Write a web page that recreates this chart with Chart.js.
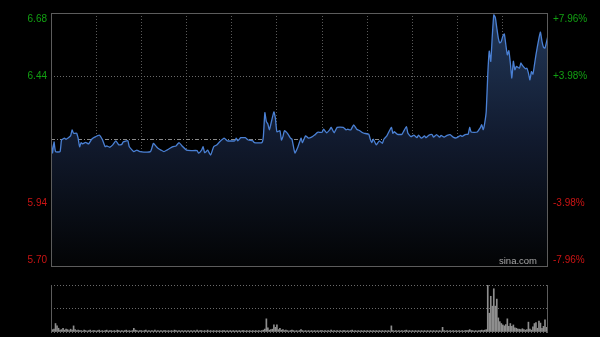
<!DOCTYPE html>
<html>
<head>
<meta charset="utf-8">
<script src="https://cdn.jsdelivr.net/npm/chart.js@4/dist/chart.umd.min.js"></script>
<style>
  html, body { margin: 0; padding: 0; background: #000; }
  #wrap { position: relative; width: 600px; height: 337px; overflow: hidden; }
  canvas { position: absolute; left: 0; }
  #priceChart { top: 0; }
  #volChart { top: 275px; }
</style>
</head>
<body>
<div id="wrap">
  <canvas id="priceChart" width="600" height="275"></canvas>
  <canvas id="volChart" width="600" height="62"></canvas>
</div>
<script>
// minutes since open (0..330) and last price at that minute
const priceMinutes = [
  0, 1, 2, 3, 6, 7, 9, 10, 13, 14, 15, 17, 18, 19, 20, 21, 23, 25, 27, 29,
  32, 34, 36, 37, 39, 41, 43, 45, 47, 48, 51, 52, 55, 57, 59, 66, 68, 70, 71, 73,
  75, 77, 79, 81, 83, 85, 87, 90, 93, 97, 98, 100, 101, 102, 103, 104, 106, 108, 110, 112,
  115, 117, 122, 123, 124, 126, 129, 131, 134, 135, 140, 141, 142, 143, 144, 145, 146, 148, 149, 150,
  152, 153, 154, 155, 157, 159, 160, 161, 162, 164, 166, 167, 169, 171, 173, 175, 177, 180, 181, 183,
  185, 186, 188, 190, 194, 196, 197, 199, 201, 203, 205, 207, 208, 211, 212, 213, 214, 216, 218, 220,
  221, 223, 226, 227, 228, 230, 233, 234, 236, 237, 239, 241, 243, 244, 246, 248, 249, 251, 253, 254,
  256, 258, 259, 261, 263, 265, 267, 269, 272, 273, 275, 277, 278, 279, 283, 285, 286, 287, 288, 289,
  290, 291, 292, 293, 294, 295, 296, 297, 298, 299, 300, 301, 302, 303, 304, 305, 306, 307, 308, 309,
  311, 312, 313, 315, 316, 317, 318, 319, 320, 321, 322, 324, 325, 326, 327, 328, 330
];
const prices = [
  6.188, 6.138, 6.181, 6.143, 6.143, 6.188, 6.195, 6.191, 6.204, 6.227, 6.214, 6.214, 6.195, 6.162, 6.178, 6.173, 6.179, 6.173, 6.191, 6.199,
  6.207, 6.191, 6.162, 6.165, 6.160, 6.169, 6.185, 6.169, 6.171, 6.181, 6.185, 6.162, 6.143, 6.149, 6.143, 6.143, 6.175, 6.162, 6.156, 6.149,
  6.143, 6.149, 6.156, 6.162, 6.165, 6.178, 6.165, 6.149, 6.147, 6.147, 6.137, 6.149, 6.162, 6.139, 6.143, 6.149, 6.130, 6.162, 6.169, 6.181,
  6.195, 6.185, 6.185, 6.195, 6.185, 6.197, 6.197, 6.188, 6.185, 6.178, 6.178, 6.201, 6.294, 6.259, 6.250, 6.227, 6.250, 6.297, 6.272, 6.220,
  6.224, 6.188, 6.201, 6.224, 6.214, 6.195, 6.191, 6.162, 6.137, 6.162, 6.195, 6.178, 6.204, 6.195, 6.199, 6.207, 6.218, 6.218, 6.230, 6.216,
  6.227, 6.237, 6.216, 6.237, 6.237, 6.227, 6.230, 6.227, 6.247, 6.230, 6.224, 6.216, 6.214, 6.210, 6.191, 6.178, 6.191, 6.169, 6.185, 6.175,
  6.191, 6.204, 6.237, 6.214, 6.220, 6.210, 6.210, 6.220, 6.240, 6.214, 6.201, 6.207, 6.197, 6.207, 6.195, 6.204, 6.197, 6.207, 6.209, 6.199,
  6.209, 6.199, 6.206, 6.199, 6.206, 6.209, 6.199, 6.196, 6.206, 6.202, 6.209, 6.211, 6.237, 6.219, 6.219, 6.235, 6.247, 6.228, 6.254, 6.300,
  6.441, 6.532, 6.493, 6.590, 6.673, 6.663, 6.622, 6.583, 6.564, 6.570, 6.590, 6.599, 6.557, 6.518, 6.534, 6.486, 6.428, 6.493, 6.460, 6.473,
  6.466, 6.486, 6.477, 6.464, 6.466, 6.447, 6.421, 6.453, 6.443, 6.479, 6.518, 6.583, 6.606, 6.570, 6.547, 6.544, 6.593
];
// volume per minute (relative units, 100 = day's biggest minute)
const volumes = [
  8, 5, 6, 18, 13, 8, 4, 5, 8, 4,
  6, 5, 3, 6, 4, 13, 5, 3, 4, 3,
  3, 2, 4, 3, 2, 3, 4, 2, 3, 3,
  2, 3, 4, 2, 3, 2, 3, 4, 2, 3,
  3, 2, 3, 2, 4, 3, 2, 3, 2, 3,
  4, 2, 3, 2, 3, 8, 4, 3, 2, 3,
  3, 2, 3, 4, 2, 3, 2, 3, 2, 4,
  2, 3, 2, 3, 2, 3, 3, 2, 3, 2,
  3, 2, 4, 3, 2, 3, 2, 3, 2, 3,
  2, 3, 2, 3, 2, 3, 2, 4, 2, 3,
  3, 2, 3, 2, 4, 2, 3, 2, 3, 2,
  3, 2, 3, 2, 3, 3, 2, 3, 2, 3,
  2, 3, 2, 3, 2, 3, 2, 3, 3, 2,
  3, 2, 3, 2, 3, 2, 3, 2, 3, 2,
  3, 4, 6, 28, 9, 4, 5, 6, 15, 10,
  15, 5, 8, 4, 5, 3, 4, 3, 2, 3,
  4, 3, 2, 3, 2, 3, 5, 3, 2, 3,
  2, 3, 2, 3, 2, 3, 2, 3, 2, 3,
  3, 2, 3, 2, 3, 2, 4, 2, 3, 2,
  3, 2, 3, 2, 3, 3, 2, 3, 2, 3,
  4, 2, 3, 2, 3, 2, 3, 2, 3, 2,
  3, 2, 3, 2, 3, 2, 3, 2, 3, 2,
  3, 2, 3, 2, 3, 2, 13, 3, 2, 3,
  2, 3, 2, 3, 2, 3, 4, 2, 3, 2,
  3, 2, 3, 2, 3, 2, 3, 2, 3, 2,
  3, 2, 3, 2, 3, 2, 3, 2, 3, 2,
  10, 3, 2, 3, 2, 3, 2, 3, 2, 3,
  2, 3, 2, 3, 2, 3, 3, 3, 5, 3,
  3, 2, 3, 2, 3, 3, 4, 3, 4, 5,
  100, 40, 76, 55, 92, 55, 70, 30, 22, 18,
  15, 13, 16, 28, 12, 18, 12, 15, 9, 8,
  6, 6, 5, 7, 5, 4, 5, 21, 6, 4,
  11, 18, 20, 8, 23, 19, 8, 12, 26, 10,
  28
];

const prevClose = 6.19;
const yTickValues = [6.68, 6.435, 6.19, 5.945, 5.70];
const leftLabels = ["6.68", "6.44", "", "5.94", "5.70"];
const rightLabels = ["+7.96%", "+3.98%", "", "-3.98%", "-7.96%"];
const xGridMinutes = [30, 60, 90, 120, 150, 180, 210, 240, 270, 300];
const volGridValues = [0, 50, 100];

const FONT = '10px "Liberation Sans", Arial, sans-serif';
const UP = "#12a012";
const DOWN = "#cc1414";

function areaFill(ctx) {
  const a = ctx.chart.chartArea;
  if (!a) return "rgba(0,0,0,0)";
  const g = ctx.chart.ctx.createLinearGradient(0, a.top, 0, a.bottom);
  g.addColorStop(0, "#223859");
  g.addColorStop(0.5, "#111a2e");
  g.addColorStop(0.75, "#0a0f19");
  g.addColorStop(1, "#030405");
  return g;
}

const framePlugin = {
  id: "frame",
  afterDraw(chart) {
    const { ctx, chartArea: a } = chart;
    ctx.save();
    ctx.strokeStyle = "#5c5c5c";
    ctx.lineWidth = 1;
    ctx.strokeRect(a.left + 0.5, a.top + 0.5, a.right - a.left - 1, a.bottom - a.top);
    ctx.restore();
  },
};

const labelPlugin = {
  id: "sideLabels",
  afterDraw(chart) {
    const { ctx, chartArea: a } = chart;
    const y = chart.scales.y;
    ctx.save();
    ctx.font = FONT;
    ctx.textBaseline = "middle";
    yTickValues.forEach((v, i) => {
      if (!leftLabels[i]) return;
      let py = y.getPixelForValue(v);
      py = Math.min(Math.max(py, a.top + 6), a.bottom - 6);
      ctx.fillStyle = v > prevClose ? UP : DOWN;
      ctx.textAlign = "right";
      ctx.fillText(leftLabels[i], a.left - 4, py);
      ctx.textAlign = "left";
      ctx.fillText(rightLabels[i], a.right + 5, py);
    });
    ctx.fillStyle = "#a8a8a8";
    ctx.font = '9.5px "Liberation Sans", Arial, sans-serif';
    ctx.textAlign = "right";
    ctx.fillText("sina.com", a.right - 11, a.bottom - 5);
    ctx.restore();
  },
};

const sidePlugin = {
  id: "volSides",
  afterDraw(chart) {
    const { ctx, chartArea: a } = chart;
    ctx.save();
    ctx.strokeStyle = "#5c5c5c";
    ctx.lineWidth = 1;
    ctx.beginPath();
    ctx.moveTo(a.left + 0.5, a.top);
    ctx.lineTo(a.left + 0.5, a.bottom + 1);
    ctx.moveTo(a.right - 0.5, a.top);
    ctx.lineTo(a.right - 0.5, a.bottom + 1);
    ctx.stroke();
    ctx.restore();
  },
};

const isBase = c => c.tick && c.tick.value === prevClose;

new Chart(document.getElementById("priceChart"), {
  type: "line",
  data: {
    datasets: [{
      data: priceMinutes.map((m, i) => ({ x: m, y: prices[i] })),
      borderColor: "#4a80d4",
      borderWidth: 1.3,
      pointRadius: 0,
      tension: 0.15,
      fill: "start",
      backgroundColor: areaFill,
    }],
  },
  options: {
    responsive: false,
    animation: false,
    events: [],
    layout: { padding: { left: 51, right: 52, top: 13, bottom: 9 } },
    plugins: { legend: { display: false }, tooltip: { enabled: false } },
    scales: {
      x: {
        type: "linear", min: 0, max: 330, z: 1,
        afterBuildTicks: s => { s.ticks = xGridMinutes.map(v => ({ value: v })); },
        afterFit: s => { s.height = 0; },
        ticks: { display: false },
        grid: { color: "#5a5a5a", drawTicks: false },
        border: { display: false, dash: [1, 2] },
      },
      y: {
        min: 5.70, max: 6.68, z: 1,
        afterBuildTicks: s => { s.ticks = yTickValues.slice(1, 4).map(v => ({ value: v })); },
        afterFit: s => { s.width = 0; },
        ticks: { display: false },
        grid: { drawTicks: false, color: c => (isBase(c) ? "#8a8a8a" : "#6a6a6a") },
        border: { display: false, dash: c => (isBase(c) ? [4, 2, 1, 2] : [1, 2]) },
      },
    },
  },
  plugins: [framePlugin, labelPlugin],
});

new Chart(document.getElementById("volChart"), {
  type: "bar",
  data: {
    datasets: [{
      data: volumes.map((v, i) => ({ x: i, y: v })),
      backgroundColor: "#8e8e8e",
      barThickness: 1,
      borderWidth: 0,
    }],
  },
  options: {
    responsive: false,
    animation: false,
    events: [],
    layout: { padding: { left: 51, right: 52, top: 10, bottom: 5 } },
    plugins: { legend: { display: false }, tooltip: { enabled: false } },
    scales: {
      x: {
        type: "linear", min: 0, max: 330, offset: false,
        afterFit: s => { s.height = 0; },
        ticks: { display: false },
        grid: { display: false, offset: false },
        border: { display: false },
      },
      y: {
        min: 0, max: 100,
        afterBuildTicks: s => { s.ticks = volGridValues.map(v => ({ value: v })); },
        afterFit: s => { s.width = 0; },
        ticks: { display: false },
        grid: { color: "#6a6a6a", drawTicks: false },
        border: { display: false, dash: [1, 2] },
      },
    },
  },
  plugins: [sidePlugin],
});
</script>
</body>
</html>
